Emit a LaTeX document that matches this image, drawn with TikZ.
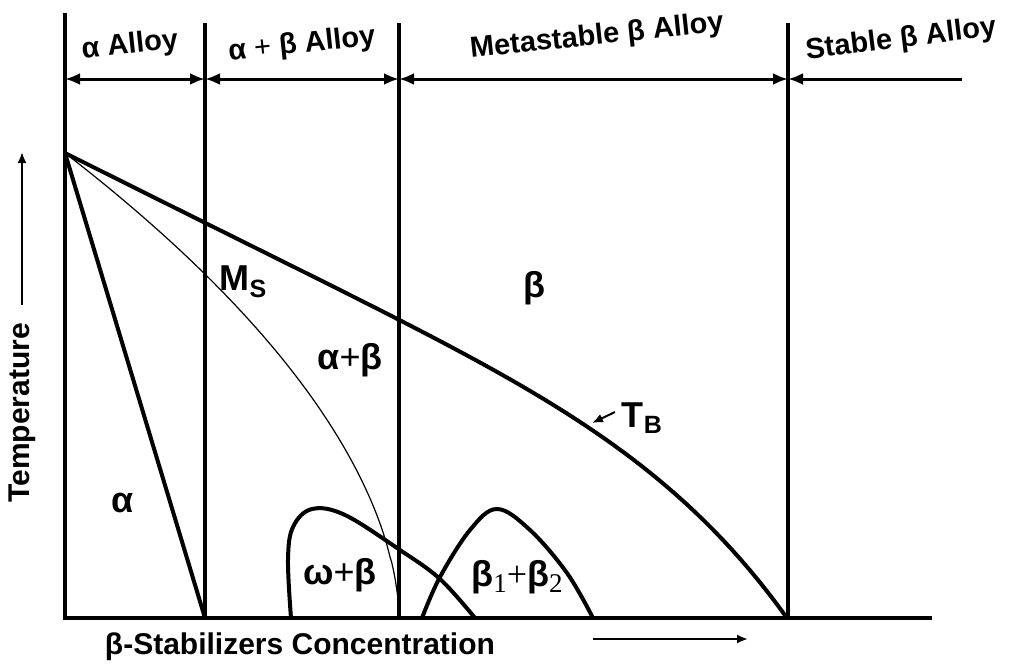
\documentclass[tikz,border=0pt]{standalone}
\usepackage{fontspec}
\setmainfont{Liberation Sans}
\newfontfamily\subserif{Liberation Serif}
\usetikzlibrary{arrows.meta}
\tikzset{
  dimtip/.tip={Latex[length=15pt,width=12pt]},
  smalltip/.tip={Latex[length=11pt,width=9pt]}
}
\begin{document}
\begin{tikzpicture}[x=1pt,y=-1pt,
  frame/.style={line width=4pt},
  phase/.style={line width=4pt, line join=round},
  msline/.style={line width=1.2pt},
  dimline/.style={line width=3pt},
  toplbl/.style={font=\fontsize{29}{32}\selectfont\bfseries, inner sep=0pt, rotate=6},
  axislbl/.style={font=\fontsize{30}{33}\selectfont\bfseries, inner sep=0pt},
  region/.style={font=\fontsize{36}{40}\selectfont\bfseries, inner sep=0pt}
]
\useasboundingbox (0,0) rectangle (1010,665);
% named points
\coordinate (apex) at (65,153);
\coordinate (ax0) at (65,618);
\coordinate (axtop) at (65,13);
\coordinate (axend) at (932,618);
\coordinate (v1t) at (205,23);  \coordinate (v1b) at (205,618);
\coordinate (v2t) at (399,23);  \coordinate (v2b) at (399,618);
\coordinate (v3t) at (788,23);  \coordinate (v3b) at (788,618);
\coordinate (d0) at (65,79); \coordinate (d1) at (205,79);
\coordinate (d2) at (399,79); \coordinate (d3) at (788,79);
\coordinate (d4) at (962,79);
% frame
\draw[frame] (axtop) -- (ax0) -- (axend);
\draw[frame] (v1t) -- (v1b);
\draw[frame] (v2t) -- (v2b);
\draw[frame] (v3t) -- (v3b);
% dimension arrows
\draw[dimline, dimtip-dimtip] (d0) -- (d1);
\draw[dimline, dimtip-dimtip] (d1) -- (d2);
\draw[dimline, dimtip-dimtip] (d2) -- (d3);
\draw[dimline, dimtip-] (d3) -- (d4);
% top labels
\node[toplbl] (la) at (130,46) {α Alloy};
\node[toplbl] (lab) at (302,45) {α {\mdseries +} β Alloy};
\node[toplbl] (lmeta) at (597,37) {Metastable β Alloy};
\node[toplbl, rotate=1] (lstab) at (901,40) {Stable β Alloy};
% phase boundaries
\draw[phase] (apex) -- (v1b);
% beta transus T_B
\draw[phase] plot[domain=0:1, samples=80, variable=\t]
  ({65+722*\t}, {153+361*\t-6*\t*\t+110*\t^6});
% martensite start M_S
\draw[msline] plot[domain=0:0.995, samples=80, variable=\t]
  ({65+334*(1-(1-\t)^1.8)}, {153+465*\t}) -- (v2b);
% omega + beta
\draw[phase] plot[smooth, tension=0.6] coordinates {(291,618) (288,560) (293,527) (312,509) (345,515) (400,550) (440,579) (475,618)};
% beta1 + beta2
\draw[phase] plot[smooth, tension=0.6] coordinates {(422,618) (440,577) (470,530) (497,509) (530,530) (567,573) (593,618)};
% region labels
\node[region] (ra) at (123,503) {α};
\node[region] (rms) at (243,282) {M\raisebox{-0.35ex}{\fontsize{25}{27}\selectfont S}};
\node[region] (rab) at (350,360) {α{\mdseries +}β};
\node[region] (rb) at (534,288) {β};
\node[region] (rtb) at (642,418) {T\raisebox{-0.35ex}{\fontsize{25}{27}\selectfont B}};
\node[region] (rwb) at (340,575) {ω{\mdseries +}β};
\node[region] (rb12) at (517,577) {β\raisebox{-0.3ex}{\subserif\mdseries\fontsize{27}{29}\selectfont 1}{\subserif\mdseries +}β\raisebox{-0.3ex}{\subserif\mdseries\fontsize{27}{29}\selectfont 2}};
% T_B pointer
\coordinate (tbs) at (615,412);
\coordinate (tbe) at (592,423);
\draw[line width=2pt, -smalltip] (tbs) -- (tbe);
% axis labels and arrows
\coordinate (ta0) at (22,305);
\coordinate (ta1) at (22,152);
\draw[line width=2pt, -smalltip] (ta0) -- (ta1);
\node[axislbl, rotate=90] (temp) at (22,413) {Temperature};
\node[axislbl] (conc) at (300,647) {β-Stabilizers Concentration};
\coordinate (ca0) at (593,639);
\coordinate (ca1) at (748,639);
\draw[line width=2pt, -smalltip] (ca0) -- (ca1);
\end{tikzpicture}
\end{document}
